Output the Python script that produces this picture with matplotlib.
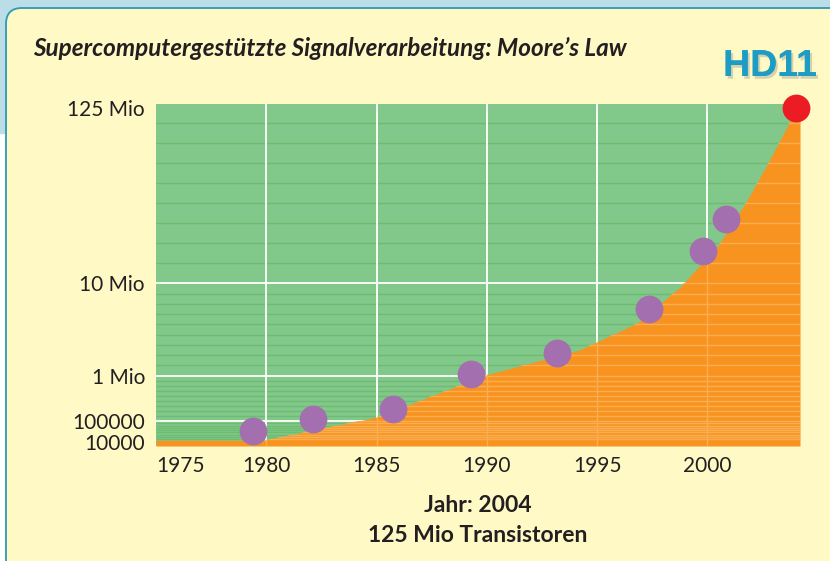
import numpy as np
import matplotlib
matplotlib.use("Agg")
import matplotlib.pyplot as plt
from matplotlib.patches import FancyBboxPatch, Rectangle
import matplotlib.patheffects as pe

# ---- data --------------------------------------------------------------------
# processor generations: year and transistor count
years  = [1979.4, 1982.1, 1985.75, 1989.3, 1993.2, 1997.35, 1999.8, 2000.85]
counts = [5.4e4, 1.4e5, 3.3e5, 1.13e6, 3.2e6, 7.5e6, 3.1e7, 5.2e7]
latest_year, latest_count = 2004, 1.25e8

# upper edge of the orange growth area
env_years  = [1975, 1979.9, 1985, 1990, 1994.2, 1996.8, 1998.75,
              2000.5, 2001.8, 2002.75, 2003.7, 2004.0, 2004.2]
env_counts = [1.5e4, 1.5e4, 1.74e5, 1.1e6, 3.5e6, 6.1e6, 9.6e6,
              3.5e7, 6.45e7, 8.9e7, 1.15e8, 1.25e8, 1.25e8]

x_ticks  = [1975, 1980, 1985, 1990, 1995, 2000]
x_grid   = [1980, 1985, 1990, 1995, 2000]
y_ticks  = [1e4, 1e5, 1e6, 1e7, 1.25e8]
y_labels = ["10000", "100000", "1 Mio", "10 Mio", "125 Mio"]
y_grid   = [1e5, 1e6, 1e7]

# ---- colours -----------------------------------------------------------------
BLUE_BG  = "#badde7"
PANEL    = "#fff9c6"
BORDER   = "#2a9bb3"
GREEN    = "#83c88b"
GREEN_DK = "#6cbd71"
ORANGE   = "#f7931e"
ORANGE_L = "#fbad52"
PURPLE   = "#a46fae"
RED      = "#ec1c24"
TEXT     = "#231f20"

plt.rcParams["font.family"] = ["Lato", "DejaVu Sans"]

# the original uses a hand-made axis: linear inside each decade,
# decades get wider towards the top
KV = [0, 1e4, 1e5, 1e6, 1e7, 1.25e8, 1.4e8]
KP = [-4.5, 0, 20.5, 65.8, 158.2, 333.5, 356.4]


def fwd(v):
    return np.interp(v, KV, KP)


def inv(p):
    return np.interp(p, KP, KV)


YTOP = float(inv(337.5))

fig = plt.figure(figsize=(8.3, 5.61), dpi=100, facecolor="white")

# background: blue band on top, rounded yellow panel
fig.patches.append(Rectangle((0, 1 - 133 / 561), 1, 133 / 561,
                             transform=fig.transFigure, color=BLUE_BG, zorder=-10))
fig.patches.append(FancyBboxPatch((0.06, -1.0), 10, 5.61 - 0.08 + 1.0,
                                  boxstyle="round,pad=0,rounding_size=0.16",
                                  transform=fig.dpi_scale_trans,
                                  facecolor=PANEL, edgecolor=BORDER, lw=1.3,
                                  zorder=-9))

ax = fig.add_axes([156 / 830, 115 / 561, 644 / 830, 342 / 561])
ax.set_facecolor(GREEN)
ax.set_yscale("function", functions=(fwd, inv))
ax.set_xlim(1975, 2004.2)
ax.set_ylim(0, YTOP)
for s in ax.spines.values():
    s.set_visible(False)

# stripe pattern
step = (1.25e8 - 1e7) * 20 / (333.5 - 158.2)
stripes = [m * d for d in (1e4, 1e5, 1e6) for m in range(2, 10)]
stripes += list(np.arange(1e7 + step, YTOP - step / 4, step))

ax.hlines(stripes, 1975, 2004.2, color=GREEN_DK, lw=1.0, zorder=0.5)
ax.hlines(y_grid, 1975, 2004.2, color="white", lw=1.3, zorder=1)
ax.vlines(x_grid, 0, YTOP, color="white", lw=1.3, zorder=1)

area = ax.fill_between(env_years, env_counts, 0, color=ORANGE, lw=0, zorder=2)
clip = area.get_paths()[0]
l1 = ax.hlines(stripes + y_grid, 1975, 2004.2, color=ORANGE_L, lw=1.0, zorder=2.5)
l2 = ax.vlines(x_grid, 0, YTOP, color=ORANGE_L, lw=1.0, zorder=2.5)
for coll in (l1, l2):
    coll.set_clip_path(clip, ax.transData)

ax.scatter(years, counts, s=400, color=PURPLE, lw=0, zorder=5, clip_on=False)
ax.scatter([latest_year], [latest_count], s=400, color=RED, lw=0, zorder=5,
           clip_on=False)

ax.set_xticks(x_ticks)
ax.set_xticklabels([str(y) for y in x_ticks])
ax.get_xticklabels()[0].set_ha("left")
ax.set_yticks(y_ticks)
ax.set_yticklabels(y_labels)
ax.yaxis.set_minor_locator(matplotlib.ticker.NullLocator())
ax.tick_params(length=0, labelsize=15, colors=TEXT)
ax.tick_params(axis="y", pad=8)
ax.tick_params(axis="x", pad=7)

fig.text(33 / 830, 1 - 48 / 561,
         "Supercomputergestützte Signalverarbeitung: Moore\u2019s Law",
         fontsize=17.5, fontweight="bold", style="italic", color=TEXT,
         va="center", ha="left")

fig.text(770 / 830, 1 - 66 / 561, "HD11", fontsize=27, fontweight="bold",
         family="Liberation Sans", color="#1d9cc4", ha="center", va="center",
         path_effects=[pe.withSimplePatchShadow(offset=(1.5, -2),
                                                shadow_rgbFace="#888888",
                                                alpha=0.35),
                       pe.Normal()])

fig.text(478 / 830, 1 - 505 / 561, "Jahr: 2004", fontsize=16.5,
         fontweight="bold", color=TEXT, ha="center", va="center")
fig.text(478 / 830, 1 - 535 / 561, "125 Mio Transistoren", fontsize=16.5,
         fontweight="bold", color=TEXT, ha="center", va="center")

fig.savefig("out.png", dpi=100, facecolor=fig.get_facecolor())
